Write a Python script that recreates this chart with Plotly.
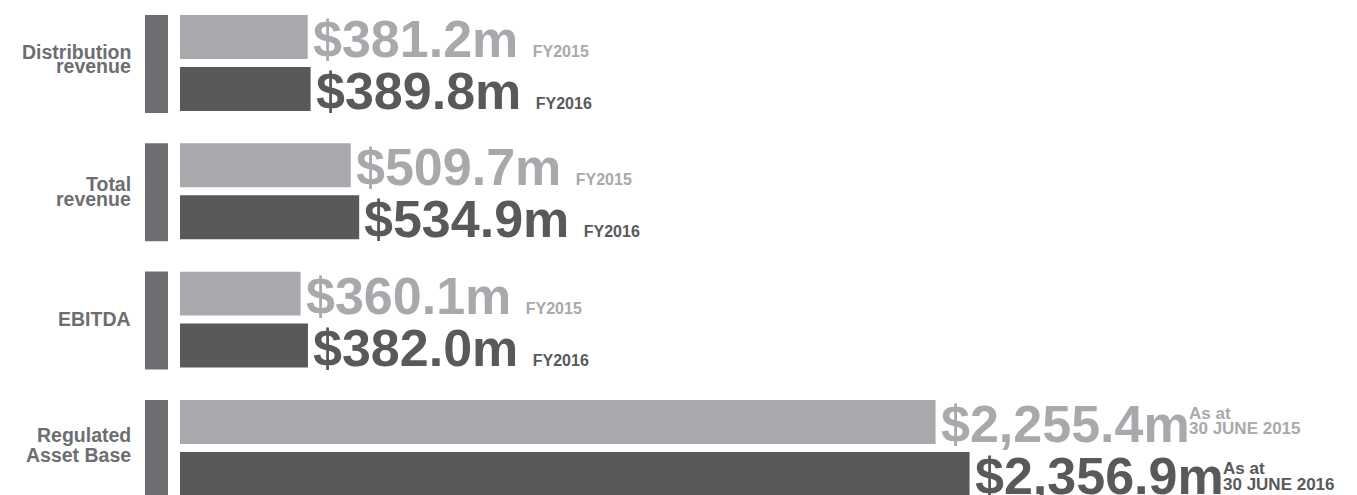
import plotly.graph_objects as go

# ---------------- data ----------------
categories = ["Distribution revenue", "Total revenue", "EBITDA", "Regulated Asset Base"]
label_lines = [["Distribution", "revenue"], ["Total", "revenue"], ["EBITDA"], ["Regulated", "Asset Base"]]
values_2015 = [381.2, 509.7, 360.1, 2255.4]
values_2016 = [389.8, 534.9, 382.0, 2356.9]
period_2015 = ["FY2015", "FY2015", "FY2015", "30 JUNE 2015"]
period_2016 = ["FY2016", "FY2016", "FY2016", "30 JUNE 2016"]
period_prefix = ["", "", "", "As at"]

# ---------------- style ----------------
LIGHT = "#a7a9ac"
DARK = "#58595b"
STRIPE = "#6d6e71"
LABEL = "#6d6e71"
FONT = "Liberation Sans, Arial, Helvetica, sans-serif"
W, H = 1357, 495
ML = 180
PX_PER_UNIT = 0.335
BIG = 52
SMALL = 16
PERIOD_SMALL = 17
LABEL_SIZE = 19.5
LABEL_RIGHT_PX = 133
GROUP_PX = 128.3
FIRST_CENTER_PX = 63
BARGAP = 0.19
BARGROUPGAP = 0.154
label_baselines = [(-4.6, 10.0), (-0.6, 14.7), (6.5,), (-6.3, 13.7)]
# vertical shifts (px, up positive) of the two-line period note for [2015, 2016]
prefix_shift = [8.5, 5.0]
period_shift = [-7.0, -10.5]

# Arial/Liberation Sans Bold advance widths (em) for width estimation of value text
ADV = {"$": 0.556, ",": 0.278, ".": 0.278, "m": 0.889}


def text_width(s, size):
    return sum(ADV.get(ch, 0.556) for ch in s) * size


def fmt(v):
    return f"${v:,.1f}m"


plot_w = W - ML
x_max = plot_w / PX_PER_UNIT
y_top = -FIRST_CENTER_PX / GROUP_PX
y_bot = y_top + H / GROUP_PX

fig = go.Figure()
fig.add_trace(go.Bar(y=categories, x=values_2015, orientation="h", name="2015",
                     marker=dict(color=LIGHT, line=dict(width=0)), hoverinfo="skip"))
fig.add_trace(go.Bar(y=categories, x=values_2016, orientation="h", name="2016",
                     marker=dict(color=DARK, line=dict(width=0)), hoverinfo="skip"))

slot = (1 - BARGAP) / 2
offsets = [-slot / 2, slot / 2]

annotations = []
shapes = []
for i, cat in enumerate(categories):
    # stripe
    half = 49 / GROUP_PX
    shapes.append(dict(type="rect", xref="paper", yref="y",
                       x0=(145 - ML) / plot_w, x1=(168 - ML) / plot_w,
                       y0=i - half + 1 / GROUP_PX, y1=i + half + 1 / GROUP_PX,
                       fillcolor=STRIPE, line=dict(width=0), layer="above"))
    # category label lines
    for line, base in zip(label_lines[i], label_baselines[i]):
        annotations.append(dict(
            xref="paper", yref="y", x=(LABEL_RIGHT_PX - ML) / plot_w, y=i,
            xanchor="right", yanchor="middle", showarrow=False,
            yshift=-(base - 0.345 * LABEL_SIZE),
            text=line, font=dict(family=FONT, size=LABEL_SIZE, color=LABEL, weight="bold"),
        ))
    # value labels
    for k, (vals, periods, color, off) in enumerate(((values_2015, period_2015, LIGHT, offsets[0]),
                                                     (values_2016, period_2016, DARK, offsets[1]))):
        v = vals[i]
        big = fmt(v)
        if period_prefix[i]:
            txt = big
        else:
            txt = big + " " + f"<span style='font-size:{SMALL}px'>{periods[i]}</span>"
        annotations.append(dict(
            xref="x", yref="y", x=v, y=i + off, xanchor="left", yanchor="middle",
            xshift=3, yshift=-2, showarrow=False, text=txt,
            font=dict(family=FONT, size=BIG, color=color, weight="bold"),
        ))
        if period_prefix[i]:
            for note, ysh in ((period_prefix[i], prefix_shift[k]), (periods[i], period_shift[k])):
                annotations.append(dict(
                    xref="x", yref="y", x=v, y=i + off, xanchor="left", yanchor="middle",
                    xshift=3 + text_width(big, BIG), yshift=ysh, showarrow=False,
                    text=note,
                    font=dict(family=FONT, size=PERIOD_SMALL, color=color, weight="bold"),
                ))

fig.update_layout(
    width=W, height=H,
    margin=dict(l=ML, r=0, t=0, b=0, pad=0),
    paper_bgcolor="white", plot_bgcolor="white",
    barmode="group", bargap=BARGAP, bargroupgap=BARGROUPGAP,
    showlegend=False,
    xaxis=dict(range=[0, x_max], visible=False, fixedrange=True),
    yaxis=dict(type="category", categoryorder="array", categoryarray=categories,
               range=[y_bot, y_top], visible=False, fixedrange=True),
    annotations=annotations, shapes=shapes,
    font=dict(family=FONT),
)

fig.write_html("out.html", config={"displayModeBar": False},
               post_script="document.body.style.margin='0';document.body.style.overflow='hidden';")
